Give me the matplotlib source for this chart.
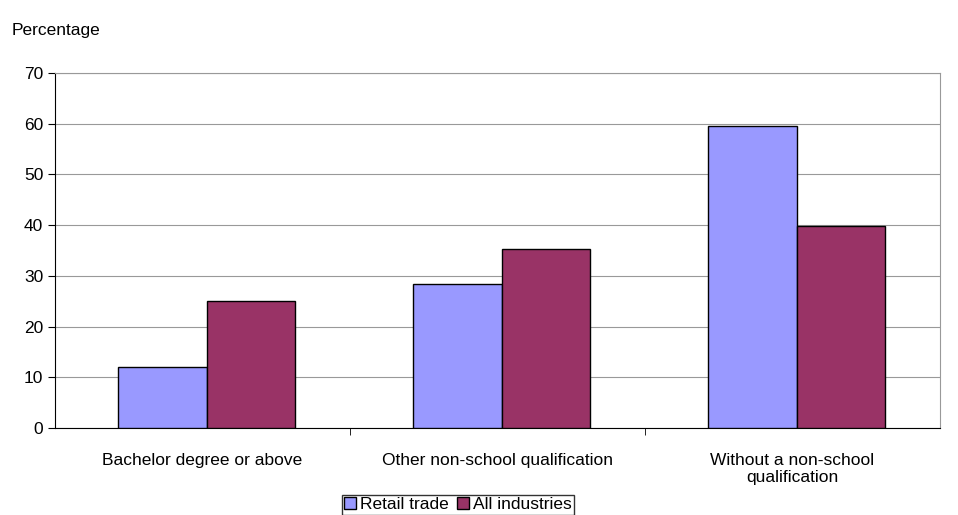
import matplotlib
matplotlib.use("Agg")
import matplotlib.pyplot as plt
import numpy as np

categories = ["Bachelor degree or above", "Other non-school qualification", "Without a non-school\nqualification"]
retail = [12.0, 28.4, 59.6]
all_ind = [25.0, 35.2, 39.8]

fig = plt.figure(figsize=(9.58, 5.15), dpi=100)
ax = fig.add_axes([55/958, 1-428/515, 885/958, 355/515])
x = np.arange(3)
w = 0.3
ax.bar(x - w/2 + 0.015, retail, w, color="#9999FF", edgecolor="black", linewidth=1, label="Retail trade", zorder=3)
ax.bar(x + w/2 + 0.015, all_ind, w, color="#993366", edgecolor="black", linewidth=1, label="All industries", zorder=3)
ax.set_xlim(-0.5, 2.5)
ax.set_ylim(0, 70)
ax.set_yticks(range(0, 71, 10))
ax.yaxis.grid(True, color="#999999", linewidth=0.8, zorder=0)
ax.set_xticks([0.5, 1.5], minor=True)
ax.set_xticks(x)
ax.set_xticklabels(categories, fontsize=12.5, family="Liberation Sans")
ax.tick_params(axis="x", which="major", length=0, pad=18)
ax.tick_params(axis="x", which="minor", length=5, direction="out")
ax.tick_params(axis="y", labelsize=12.5, length=5)
for l in ax.get_yticklabels():
    l.set_family("Liberation Sans")
for s in ["top", "right"]:
    ax.spines[s].set_color("#999999")
ax.spines["left"].set_color("black")
ax.spines["bottom"].set_color("black")
fig.text(12/958, 1-30/515, "Percentage", fontsize=12.5, family="Liberation Sans", va="center")
leg = fig.legend(loc="lower center", bbox_to_anchor=(458/958, 0.0), ncol=2, frameon=True, fancybox=False,
                edgecolor="black", prop={"family": "Liberation Sans", "size": 12.5},
                handlelength=0.7, handleheight=0.7, handletextpad=0.2, columnspacing=0.5,
                borderpad=0.15, borderaxespad=0.0)
leg.get_frame().set_linewidth(1)
fig.savefig("out.png", dpi=100)
